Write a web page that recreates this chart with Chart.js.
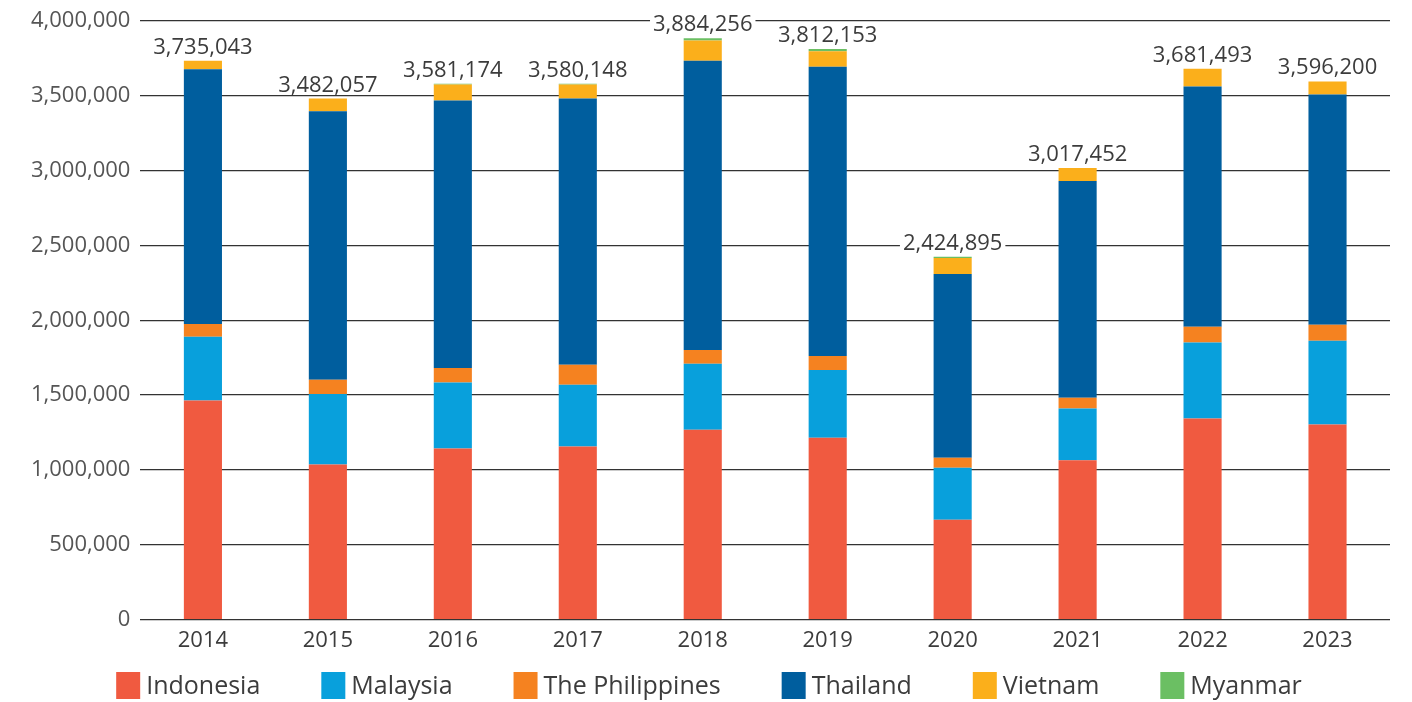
<!DOCTYPE html>
<html>
<head>
<meta charset="utf-8">
<title>Visitors by country</title>
<script src="https://cdn.jsdelivr.net/npm/chart.js@4.4.0/dist/chart.umd.min.js"></script>
<style>
  body { margin: 0; background: #fff; }
  #wrap { width: 1412px; height: 702px; position: relative; }
</style>
</head>
<body>
<div id="wrap"><canvas id="chart1"></canvas></div>
<script>
const years = ['2014', '2015', '2016', '2017', '2018', '2019', '2020', '2021', '2022', '2023'];

const indonesia   = [1464000, 1037000, 1144000, 1157000, 1269000, 1215000, 667000, 1064000, 1344000, 1304000];
const malaysia    = [426700, 471000, 440000, 413000, 440000, 453000, 348000, 347000, 507000, 560000];
const philippines = [84600, 94000, 98000, 133000, 93000, 94000, 67000, 71000, 106000, 107000];
const thailand    = [1701700, 1795000, 1787000, 1779000, 1933000, 1933000, 1227000, 1449000, 1605000, 1538000];
const vietnam     = [58043, 85057, 107174, 93148, 134256, 102153, 107895, 86452, 119493, 87200];
const myanmar     = [0, 0, 5000, 5000, 15000, 15000, 8000, 0, 0, 0];

const totals = [3735043, 3482057, 3581174, 3580148, 3884256, 3812153, 2424895, 3017452, 3681493, 3596200];

const yTicks = [0, 500000, 1000000, 1500000, 2000000, 2500000, 3000000, 3500000, 4000000];

const FONT = '"Open Sans", "Noto Sans", sans-serif';
const fmt = new Intl.NumberFormat('en-US');

// total above each stack, on a white patch so grid lines break around it
const totalLabels = {
    id: 'totalLabels',
    afterDatasetsDraw(chart) {
        const ctx = chart.ctx;
        const y = chart.scales.y;
        const meta = chart.getDatasetMeta(0);
        ctx.save();
        ctx.font = '22px ' + FONT;
        ctx.textAlign = 'center';
        ctx.textBaseline = 'alphabetic';
        totals.forEach((t, i) => {
            const x = meta.data[i].x;
            const top = y.getPixelForValue(t);
            const txt = fmt.format(t);
            const w = ctx.measureText(txt).width;
            const base = top - 7;
            ctx.fillStyle = '#fff';
            ctx.fillRect(x - w / 2 - 3, base - 17, w + 6, 19);
            ctx.fillStyle = '#3c3c3c';
            ctx.fillText(txt, x, base);
        });
        ctx.restore();
    }
};

// legend drawn by hand to get the wide spacing between items
const bottomLegend = {
    id: 'bottomLegend',
    afterDraw(chart) {
        const ctx = chart.ctx;
        const sets = chart.data.datasets;
        const box = 24, boxH = 27, gap = 6, space = 61;
        ctx.save();
        ctx.font = '25px ' + FONT;
        const widths = sets.map(d => box + gap + ctx.measureText(d.label).width);
        const total = widths.reduce((a, b) => a + b, 0) + space * (sets.length - 1);
        let x = chart.width / 2 + 3 - total / 2;
        const top = 672;
        ctx.textBaseline = 'middle';
        ctx.textAlign = 'left';
        sets.forEach((d, i) => {
            ctx.fillStyle = d.backgroundColor;
            ctx.fillRect(x, top, box, boxH);
            ctx.fillStyle = '#3c3c3c';
            ctx.fillText(d.label, x + box + gap, top + boxH / 2 + 1);
            x += widths[i] + space;
        });
        ctx.restore();
    }
};

const mk = (label, data, color) => ({
    label: label,
    data: data,
    backgroundColor: color,
    borderWidth: 0,
    categoryPercentage: 1,
    barPercentage: 0.305
});

new Chart('chart1', {
    type: 'bar',
    data: {
        labels: years,
        datasets: [
            mk('Indonesia', indonesia, '#F05A40'),
            mk('Malaysia', malaysia, '#08A0DC'),
            mk('The Philippines', philippines, '#F58220'),
            mk('Thailand', thailand, '#005E9E'),
            mk('Vietnam', vietnam, '#FBAF1B'),
            mk('Myanmar', myanmar, '#6BBF63')
        ]
    },
    options: {
        responsive: true,
        maintainAspectRatio: false,
        animation: false,
        layout: { padding: { left: 21, right: 22, top: 2, bottom: 48 } },
        plugins: {
            legend: { display: false },
            tooltip: { enabled: false }
        },
        scales: {
            x: {
                stacked: true,
                grid: { display: false },
                border: { display: false },
                ticks: { color: '#3c3c3c', font: { family: FONT, size: 22 }, padding: 0 }
            },
            y: {
                stacked: true,
                min: 0,
                max: 4000000,
                afterBuildTicks: (s) => { s.ticks = yTicks.map(v => ({ value: v })); },
                grid: { color: '#333', lineWidth: 1.3, drawTicks: false },
                border: { display: false },
                ticks: {
                    color: '#555',
                    font: { family: FONT, size: 22, lineHeight: 1 },
                    padding: 10,
                    callback: (v) => fmt.format(v)
                }
            }
        }
    },
    plugins: [totalLabels, bottomLegend]
});
</script>
</body>
</html>
